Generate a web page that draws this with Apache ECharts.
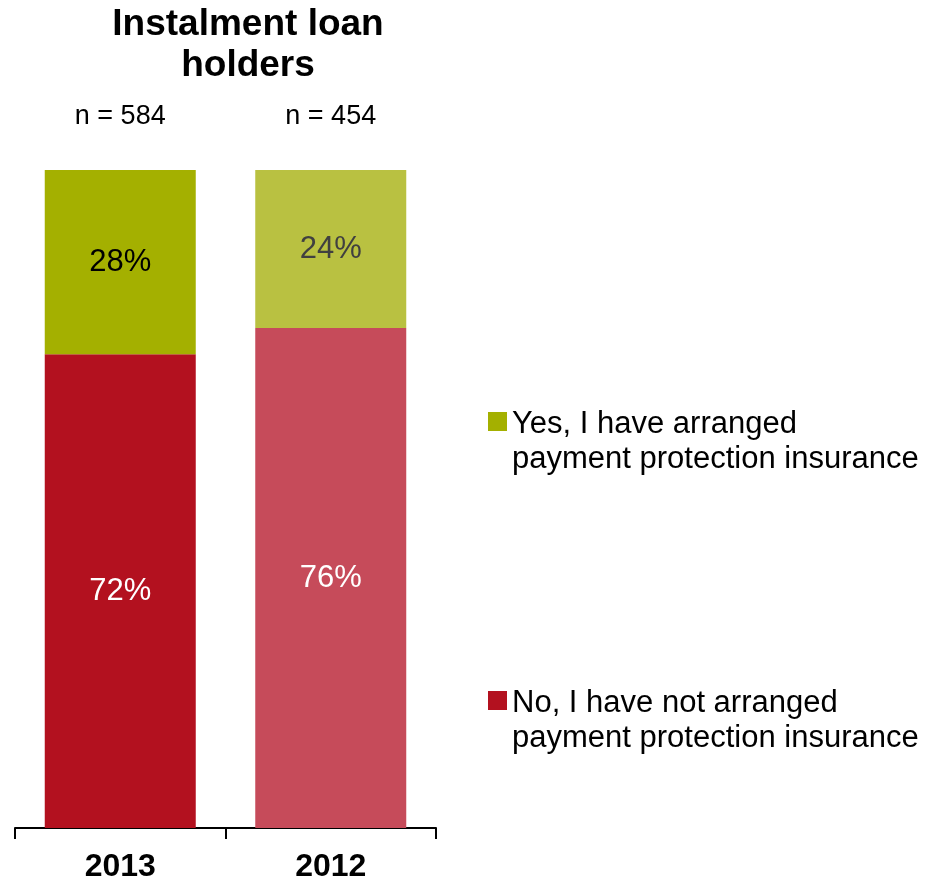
<!DOCTYPE html>
<html>
<head>
<meta charset="utf-8">
<script src="https://cdn.jsdelivr.net/npm/echarts@6/dist/echarts.min.js"></script>
<style>
  html, body { margin: 0; padding: 0; background: #ffffff; }
  #chart { width: 934px; height: 883px; }
</style>
</head>
<body>
<div id="chart"></div>
<script>
// Survey years and sample sizes
const years = ['2013', '2012'];
const sampleLabels = ['n = 584', 'n = 454'];

// Share of instalment loan holders (percent)
const noValues = [72, 76];
const yesValues = [28, 24];

const yesName = 'Yes, I have arranged\npayment protection insurance';
const noName = 'No, I have not arranged\npayment protection insurance';

// Current year in full colour, previous year in a lighter tint
const yesColors = ['#a4b000', '#b9c141'];
const noColors = ['#b3111f', '#c64b5a'];
const yesLabelColors = ['#000000', '#404040'];
const noLabelColors = ['#ffffff', '#ffffff'];

const FONT = '"Liberation Sans", Arial, sans-serif';

function buildData(values, colors, labelColors) {
  return values.map((v, i) => ({
    value: v,
    itemStyle: { color: colors[i] },
    label: { color: labelColors[i] }
  }));
}

// Legend text: a blank spacer line above keeps the first text line level with the marker
function legendBlock(name, top) {
  return {
    data: [name],
    left: 488,
    top: top,
    padding: 0,
    orient: 'vertical',
    icon: 'rect',
    itemWidth: 19,
    itemHeight: 19,
    selectedMode: false,
    formatter: (n) => '{e| }\n' + n.split('\n').map((s) => '{t|' + s + '}').join('\n'),
    textStyle: {
      fontFamily: FONT,
      fontSize: 31,
      color: '#000000',
      rich: {
        e: { fontFamily: FONT, fontSize: 41, lineHeight: 41, height: 41 },
        t: { fontFamily: FONT, fontSize: 31, lineHeight: 35, color: '#000000' }
      }
    }
  };
}

const chart = echarts.init(document.getElementById('chart'));

chart.setOption({
  animation: false,
  backgroundColor: '#ffffff',
  title: {
    text: 'Instalment loan\nholders',
    left: 243,
    top: -1,
    textAlign: 'center',
    textStyle: {
      fontFamily: FONT,
      fontWeight: 'bold',
      fontSize: 37,
      lineHeight: 41,
      color: '#000000'
    }
  },
  legend: [
    legendBlock(yesName, 366),
    legendBlock(noName, 645)
  ],
  grid: {
    left: 15,
    width: 421,
    top: 170,
    bottom: 52,
    containLabel: false
  },
  xAxis: [
    {
      type: 'category',
      data: years,
      position: 'bottom',
      axisLine: { show: true, lineStyle: { color: '#000000', width: 2 } },
      axisTick: { show: true, length: 11, lineStyle: { color: '#000000', width: 2 } },
      axisLabel: {
        fontFamily: FONT,
        fontWeight: 'bold',
        fontSize: 32,
        color: '#000000',
        margin: 23
      }
    },
    {
      type: 'category',
      data: sampleLabels,
      position: 'top',
      axisLine: { show: false },
      axisTick: { show: false },
      axisLabel: {
        fontFamily: FONT,
        fontSize: 27,
        color: '#000000',
        margin: 40
      }
    }
  ],
  yAxis: {
    type: 'value',
    min: 0,
    max: 100,
    show: false,
    splitLine: { show: false }
  },
  series: [
    {
      name: noName,
      type: 'bar',
      stack: 'total',
      barWidth: 151,
      color: noColors[0],
      data: buildData(noValues, noColors, noLabelColors),
      label: {
        show: true,
        position: 'inside',
        formatter: '{c}%',
        fontFamily: FONT,
        fontSize: 31
      }
    },
    {
      name: yesName,
      type: 'bar',
      stack: 'total',
      barWidth: 151,
      color: yesColors[0],
      data: buildData(yesValues, yesColors, yesLabelColors),
      label: {
        show: true,
        position: 'inside',
        formatter: '{c}%',
        fontFamily: FONT,
        fontSize: 31
      }
    }
  ]
});
</script>
</body>
</html>
